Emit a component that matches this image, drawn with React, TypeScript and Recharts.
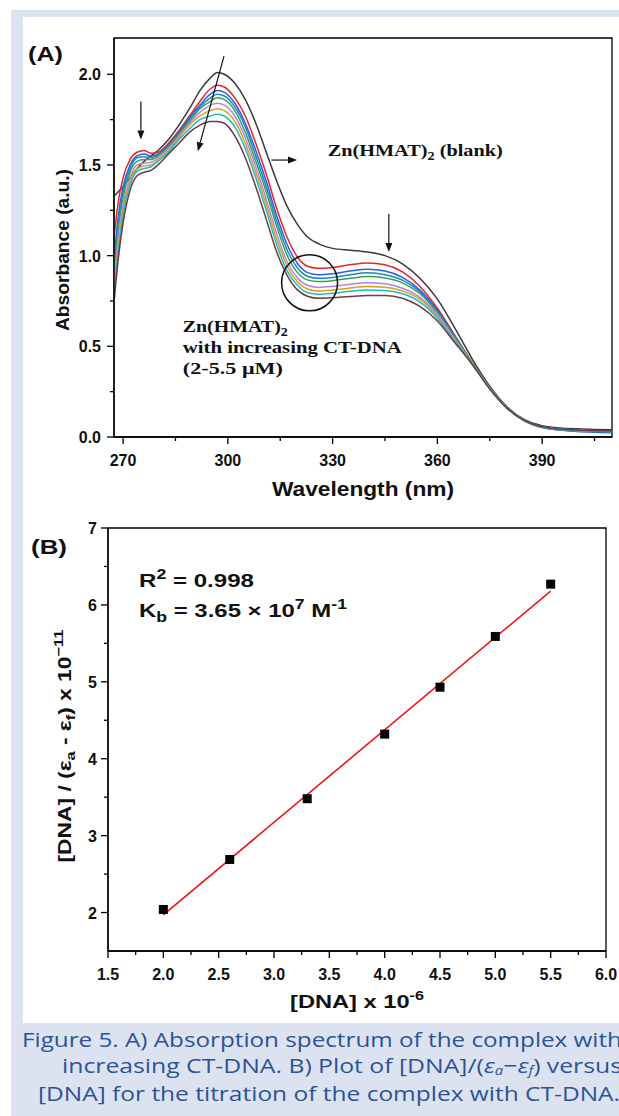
import React from 'react';
import {
  ComposedChart, Label, Line, LineChart, ReferenceArea, ReferenceDot,
  ReferenceLine, Scatter, XAxis, YAxis,
} from 'recharts';

// (A) absorption spectra, wavelength in nm
const wavelength = [267.5, 268.5, 270, 272, 274, 276, 278, 280, 283, 286, 289, 292, 295, 297, 299, 302, 305, 308, 311, 314, 317, 320, 323, 326, 330, 335, 340, 345, 350, 355, 360, 365, 370, 375, 380, 385, 390, 395, 400, 405, 410];
const blank = [1.33, 1.35, 1.38, 1.43, 1.48, 1.52, 1.55, 1.58, 1.64, 1.72, 1.81, 1.91, 1.98, 2.01, 2.0, 1.95, 1.86, 1.73, 1.57, 1.41, 1.27, 1.17, 1.1, 1.065, 1.04, 1.03, 1.02, 1.0, 0.955, 0.875, 0.76, 0.6, 0.43, 0.28, 0.165, 0.095, 0.062, 0.05, 0.045, 0.042, 0.04];
const dna1 = [1.12, 1.28, 1.43, 1.53, 1.57, 1.58, 1.565, 1.57, 1.62, 1.69, 1.77, 1.85, 1.92, 1.94, 1.93, 1.87, 1.77, 1.62, 1.45, 1.26, 1.1, 0.99, 0.94, 0.93, 0.935, 0.95, 0.96, 0.95, 0.91, 0.83, 0.71, 0.56, 0.41, 0.27, 0.16, 0.09, 0.055, 0.042, 0.036, 0.033, 0.032];
const dna2 = [1.0, 1.2, 1.38, 1.5, 1.55, 1.56, 1.55, 1.56, 1.61, 1.68, 1.76, 1.83, 1.89, 1.91, 1.9, 1.84, 1.73, 1.58, 1.41, 1.22, 1.06, 0.955, 0.905, 0.895, 0.9, 0.915, 0.925, 0.915, 0.88, 0.81, 0.7, 0.555, 0.41, 0.27, 0.158, 0.088, 0.052, 0.038, 0.03, 0.026, 0.024];
const dna3 = [0.95, 1.16, 1.35, 1.48, 1.54, 1.545, 1.54, 1.555, 1.6, 1.67, 1.75, 1.82, 1.87, 1.89, 1.88, 1.82, 1.71, 1.55, 1.38, 1.19, 1.03, 0.93, 0.885, 0.875, 0.88, 0.895, 0.905, 0.895, 0.865, 0.8, 0.69, 0.55, 0.41, 0.27, 0.158, 0.088, 0.053, 0.04, 0.033, 0.03, 0.028];
const dna4 = [0.9, 1.12, 1.32, 1.46, 1.52, 1.53, 1.53, 1.55, 1.6, 1.67, 1.74, 1.81, 1.85, 1.87, 1.86, 1.8, 1.68, 1.52, 1.35, 1.16, 1.0, 0.905, 0.865, 0.857, 0.862, 0.875, 0.885, 0.877, 0.85, 0.79, 0.685, 0.545, 0.41, 0.27, 0.16, 0.09, 0.055, 0.042, 0.035, 0.032, 0.03];
const dna5 = [0.87, 1.08, 1.28, 1.43, 1.5, 1.51, 1.515, 1.54, 1.59, 1.66, 1.73, 1.79, 1.83, 1.84, 1.83, 1.77, 1.65, 1.49, 1.31, 1.12, 0.965, 0.875, 0.835, 0.825, 0.83, 0.842, 0.85, 0.845, 0.82, 0.77, 0.675, 0.54, 0.405, 0.268, 0.16, 0.09, 0.055, 0.042, 0.036, 0.033, 0.031];
const dna6 = [0.83, 1.04, 1.25, 1.41, 1.48, 1.495, 1.5, 1.53, 1.58, 1.65, 1.72, 1.77, 1.8, 1.81, 1.8, 1.74, 1.62, 1.46, 1.28, 1.09, 0.94, 0.855, 0.815, 0.805, 0.81, 0.822, 0.83, 0.826, 0.805, 0.76, 0.665, 0.535, 0.405, 0.268, 0.16, 0.092, 0.057, 0.044, 0.038, 0.035, 0.034];
const dna7 = [0.8, 1.0, 1.22, 1.39, 1.465, 1.48, 1.49, 1.52, 1.57, 1.64, 1.7, 1.75, 1.77, 1.78, 1.77, 1.71, 1.59, 1.43, 1.25, 1.06, 0.915, 0.835, 0.795, 0.787, 0.792, 0.803, 0.81, 0.808, 0.79, 0.745, 0.655, 0.53, 0.4, 0.266, 0.158, 0.09, 0.055, 0.042, 0.036, 0.033, 0.032];
const dna8 = [0.76, 0.96, 1.18, 1.36, 1.44, 1.46, 1.47, 1.5, 1.56, 1.62, 1.68, 1.72, 1.74, 1.74, 1.73, 1.66, 1.54, 1.38, 1.2, 1.02, 0.89, 0.81, 0.775, 0.765, 0.768, 0.775, 0.78, 0.78, 0.765, 0.72, 0.64, 0.52, 0.4, 0.265, 0.158, 0.09, 0.056, 0.044, 0.038, 0.035, 0.034];

const seriesA = [
  { key: 'blank', values: blank, color: '#3a3a3a' },
  { key: 'dna1', values: dna1, color: '#e3262c' },
  { key: 'dna2', values: dna2, color: '#2f5fd6' },
  { key: 'dna3', values: dna3, color: '#1f86c4' },
  { key: 'dna4', values: dna4, color: '#35a25c' },
  { key: 'dna5', values: dna5, color: '#b483e6' },
  { key: 'dna6', values: dna6, color: '#d9a21c' },
  { key: 'dna7', values: dna7, color: '#22b8c8' },
  { key: 'dna8', values: dna8, color: '#6e3a48' },
];

const xTicksA = [270, 285, 300, 315, 330, 345, 360, 375, 390, 405];
const yTicksA = [0, 0.25, 0.5, 0.75, 1.0, 1.25, 1.5, 1.75, 2.0];

// (B) binding plot
const dnaConc = [2.0, 2.6, 3.3, 4.0, 4.5, 5.0, 5.5];
const dnaRatio = [2.04, 2.69, 3.48, 4.32, 4.93, 5.59, 6.27];
const fitConc = [2.0, 5.5];
const fitRatio = [1.97, 6.18];

const xTicksB = [1.5, 1.75, 2.0, 2.25, 2.5, 2.75, 3.0, 3.25, 3.5, 3.75, 4.0, 4.25, 4.5, 4.75, 5.0, 5.25, 5.5, 5.75, 6.0];
const yTicksB = [2, 2.5, 3, 3.5, 4, 4.5, 5, 5.5, 6, 6.5, 7];

const spectra = wavelength.map((w, i) => {
  const row: Record<string, number> = { w };
  seriesA.forEach((s) => { row[s.key] = s.values[i]; });
  return row;
});
const points = dnaConc.map((x, i) => ({ x, y: dnaRatio[i] }));
const fit = fitConc.map((x, i) => ({ x, y: fitRatio[i] }));

const sans = '"Liberation Sans", Arial, sans-serif';
const serif = '"Liberation Serif", "Times New Roman", serif';

const isHalf = (v: number) => Math.abs(v * 2 - Math.round(v * 2)) < 1e-6;

const bottomTick = (isMajor: (v: number) => boolean, fmt: (v: number) => string) => (p: any) => {
  const v = p.payload.value;
  const major = isMajor(v);
  return (
    <g>
      <line x1={p.x} y1={p.y} x2={p.x} y2={p.y + (major ? 7 : 4)} stroke="#000" strokeWidth={1.3} />
      {major && (
        <text x={p.x} y={p.y + 29} textAnchor="middle" fontFamily={sans} fontWeight="bold" fontSize={16} fill="#111">
          {fmt(v)}
        </text>
      )}
    </g>
  );
};

const leftTick = (isMajor: (v: number) => boolean, fmt: (v: number) => string, gap: number) => (p: any) => {
  const v = p.payload.value;
  const major = isMajor(v);
  return (
    <g>
      <line x1={p.x} y1={p.y} x2={p.x - (major ? 7 : 4)} y2={p.y} stroke="#000" strokeWidth={1.3} />
      {major && (
        <text x={p.x - gap} y={p.y + 6} textAnchor="end" fontFamily={sans} fontWeight="bold" fontSize={16} fill="#111">
          {fmt(v)}
        </text>
      )}
    </g>
  );
};

const arrow = (p: any) => {
  const { x1, y1, x2, y2 } = p;
  const a = Math.atan2(y2 - y1, x2 - x1);
  const bx = x2 - 9 * Math.cos(a);
  const by = y2 - 9 * Math.sin(a);
  const nx = -Math.sin(a) * 3.5;
  const ny = Math.cos(a) * 3.5;
  return (
    <g>
      <line x1={x1} y1={y1} x2={bx} y2={by} stroke="#111" strokeWidth={1.2} />
      <polygon points={`${x2},${y2} ${bx + nx},${by + ny} ${bx - nx},${by - ny}`} fill="#111" />
    </g>
  );
};

const SpectraChart = () => (
  <LineChart width={619} height={520} data={spectra} margin={{ top: 38, right: 7, bottom: 53, left: 64 }}>
    <XAxis
      dataKey="w" type="number" domain={[267.4, 410]} ticks={xTicksA} allowDataOverflow
      height={30} tickSize={0} tickMargin={0} tickLine={false} interval={0}
      axisLine={{ stroke: '#000', strokeWidth: 1.3 }}
      tick={bottomTick((v) => v % 30 === 0, (v) => String(v))}
    >
      <Label content={() => (
        <text x={363} y={496} textAnchor="middle" fontFamily={sans} fontWeight="bold" fontSize={20} fill="#111"
          textLength={182} lengthAdjust="spacingAndGlyphs">Wavelength (nm)</text>
      )} />
    </XAxis>
    <YAxis
      type="number" domain={[0, 2.2]} ticks={yTicksA} allowDataOverflow
      width={50} tickSize={0} tickMargin={0} tickLine={false} interval={0}
      axisLine={{ stroke: '#000', strokeWidth: 1.3 }}
      tick={leftTick(isHalf, (v) => v.toFixed(1), 13)}
    >
      <Label content={() => (
        <text x={69} y={250} transform="rotate(-90 69 250)" textAnchor="middle" fontFamily={sans} fontWeight="bold" fontSize={19} fill="#111"
          textLength={162} lengthAdjust="spacingAndGlyphs">Absorbance (a.u.)</text>
      )} />
      <Label content={() => (
        <text x={28} y={61} fontFamily={sans} fontWeight="bold" fontSize={21} fill="#111"
          textLength={35} lengthAdjust="spacingAndGlyphs">(A)</text>
      )} />
    </YAxis>
    <ReferenceArea x1={267.4} x2={410} y1={0} y2={2.2} fill="none" stroke="#000" strokeWidth={1.3} />
    {seriesA.map((s) => (
      <Line key={s.key} type="monotone" dataKey={s.key} stroke={s.color} strokeWidth={1.5} dot={false} isAnimationActive={false} />
    ))}
    <ReferenceLine segment={[{ x: 275.1, y: 1.85 }, { x: 275.1, y: 1.64 }]} shape={arrow} />
    <ReferenceLine segment={[{ x: 298.9, y: 2.1 }, { x: 291.4, y: 1.575 }]} shape={arrow} />
    <ReferenceLine segment={[{ x: 312.5, y: 1.527 }, { x: 319.8, y: 1.527 }]} shape={arrow} />
    <ReferenceLine segment={[{ x: 346.1, y: 1.23 }, { x: 346.1, y: 1.02 }]} shape={arrow} />
    <ReferenceDot x={323.4} y={0.85} r={28} shape={(p: any) => (
      <circle cx={p.cx} cy={p.cy} r={28} fill="none" stroke="#111" strokeWidth={1.5} />
    )} />
    <ReferenceDot x={328.6} y={1.55} r={1} shape={(p: any) => (
      <text x={p.cx} y={p.cy} fontFamily={serif} fontWeight="bold" fontSize={17} fill="#111"
        textLength={175} lengthAdjust="spacingAndGlyphs">
        Zn(HMAT)<tspan fontSize={12} dy={4}>2</tspan><tspan dy={-4}> (blank)</tspan>
      </text>
    )} />
    <ReferenceDot x={287.1} y={0.59} r={1} shape={(p: any) => (
      <g fontFamily={serif} fontWeight="bold" fontSize={17} fill="#111">
        <text x={p.cx} y={p.cy + 2} textLength={105} lengthAdjust="spacingAndGlyphs">
          Zn(HMAT)<tspan fontSize={12} dy={4}>2</tspan>
        </text>
        <text x={p.cx} y={p.cy + 23} textLength={219} lengthAdjust="spacingAndGlyphs">with increasing CT-DNA</text>
        <text x={p.cx} y={p.cy + 44} textLength={100} lengthAdjust="spacingAndGlyphs">(2-5.5 μM)</text>
      </g>
    )} />
  </LineChart>
);

const BindingChart = () => (
  <ComposedChart width={619} height={520} margin={{ top: 28, right: 13, bottom: 39, left: 58 }}>
    <XAxis
      dataKey="x" type="number" domain={[1.5, 6.0]} ticks={xTicksB} allowDataOverflow
      height={30} tickSize={0} tickMargin={0} tickLine={false} interval={0}
      axisLine={{ stroke: '#000', strokeWidth: 1.3 }}
      tick={bottomTick(isHalf, (v) => v.toFixed(1))}
    >
      <Label content={() => (
        <text x={357} y={508} textAnchor="middle" fontFamily={sans} fontWeight="bold" fontSize={19} fill="#111"
          textLength={134} lengthAdjust="spacingAndGlyphs">
          [DNA] x 10<tspan fontSize={13} dy={-8}>-6</tspan>
        </text>
      )} />
    </XAxis>
    <YAxis
      dataKey="y" type="number" domain={[1.5, 7]} ticks={yTicksB} allowDataOverflow
      width={50} tickSize={0} tickMargin={0} tickLine={false} interval={0}
      axisLine={{ stroke: '#000', strokeWidth: 1.3 }}
      tick={leftTick((v) => Number.isInteger(v), (v) => String(v), 11)}
    >
      <Label content={() => (
        <text x={71} y={246} transform="rotate(-90 71 246)" textAnchor="middle" fontFamily={sans} fontWeight="bold" fontSize={18} fill="#111"
          textLength={233} lengthAdjust="spacingAndGlyphs">
          [DNA] / (ε<tspan fontSize={13} dy={4}>a</tspan><tspan dy={-4}> - ε</tspan><tspan fontSize={13} dy={4}>f</tspan><tspan dy={-4}>) x 10</tspan><tspan fontSize={13} dy={-8}>−11</tspan>
        </text>
      )} />
      <Label content={() => (
        <text x={31} y={54} fontFamily={sans} fontWeight="bold" fontSize={21} fill="#111"
          textLength={36} lengthAdjust="spacingAndGlyphs">(B)</text>
      )} />
    </YAxis>
    <ReferenceArea x1={1.5} x2={6.0} y1={1.5} y2={7} fill="none" stroke="#000" strokeWidth={1.3} />
    <Line data={fit} dataKey="y" type="linear" stroke="#f0141e" strokeWidth={1.6} dot={false} isAnimationActive={false} />
    <Scatter data={points} dataKey="y" fill="#000" isAnimationActive={false}
      shape={(p: any) => <rect x={p.cx - 4.5} y={p.cy - 4.5} width={9} height={9} fill="#000" />} />
    <ReferenceDot x={1.78} y={6.23} r={1} shape={(p: any) => (
      <text x={p.cx} y={p.cy} fontFamily={sans} fontWeight="bold" fontSize={19} fill="#111"
        textLength={115} lengthAdjust="spacingAndGlyphs">
        R<tspan fontSize={14} dy={-8}>2</tspan><tspan dy={8}> = 0.998</tspan>
      </text>
    )} />
    <ReferenceDot x={1.78} y={5.84} r={1} shape={(p: any) => (
      <text x={p.cx} y={p.cy} fontFamily={sans} fontWeight="bold" fontSize={19} fill="#111"
        textLength={208} lengthAdjust="spacingAndGlyphs">
        K<tspan fontSize={14} dy={5}>b</tspan><tspan dy={-5}> = 3.65 × 10</tspan><tspan fontSize={14} dy={-8}>7</tspan><tspan dy={8}> M</tspan><tspan fontSize={14} dy={-8}>-1</tspan>
      </text>
    )} />
  </ComposedChart>
);

const capFont = '"Open Sans", "Noto Sans", sans-serif';

export default function App() {
  return (
    <div style={{ position: 'absolute', left: 0, top: 0, width: 619, height: 1116, background: '#fff', overflow: 'hidden' }}>
      <div style={{ position: 'absolute', left: 11, top: 10, width: 620, height: 1110, background: '#dde2f1' }} />
      <div style={{ position: 'absolute', left: 23, top: 17, width: 610, height: 1006, background: '#fff' }} />
      <div style={{ position: 'absolute', left: 0, top: 0 }}>
        <SpectraChart />
      </div>
      <div style={{ position: 'absolute', left: 0, top: 500 }}>
        <BindingChart />
      </div>
      <svg style={{ position: 'absolute', left: 0, top: 1020 }} width={619} height={96}>
        <g fontFamily={capFont} fontSize={20} fill="#2a5496">
          <text x={622} y={27} textAnchor="end" textLength={600} lengthAdjust="spacingAndGlyphs">
            Figure 5. A) Absorption spectrum of the complex with
          </text>
          <text x={622} y={53} textAnchor="end" textLength={560} lengthAdjust="spacingAndGlyphs">
            increasing CT-DNA. B) Plot of [DNA]/(<tspan fontStyle="italic">ε</tspan><tspan fontStyle="italic" fontSize={12} dy={2}>a</tspan><tspan dy={-2}>−</tspan><tspan fontStyle="italic">ε</tspan><tspan fontStyle="italic" fontSize={12} dy={2}>f</tspan><tspan dy={-2}>) versus</tspan>
          </text>
          <text x={620} y={81} textAnchor="end" textLength={582} lengthAdjust="spacingAndGlyphs">
            [DNA] for the titration of the complex with CT-DNA.
          </text>
        </g>
      </svg>
    </div>
  );
}
